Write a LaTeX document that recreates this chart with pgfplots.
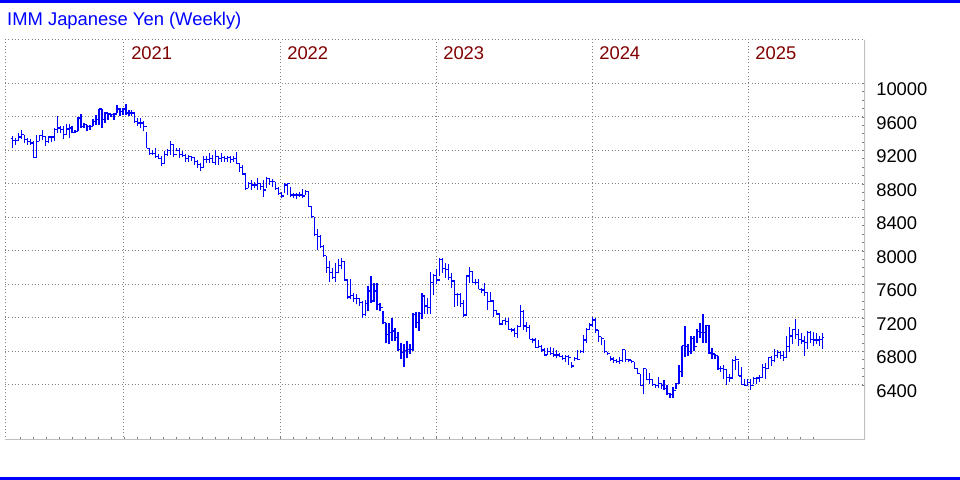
\documentclass[border=0pt]{standalone}
\usepackage{fontspec}
\setmainfont{Liberation Sans}
\usepackage{pgfplots}
\usepackage{pgfplotstable}
\pgfplotsset{compat=1.18}
\definecolor{yrred}{HTML}{800000}
\definecolor{gridgray}{HTML}{808080}
\definecolor{axgray}{HTML}{C0C0C0}
\definecolor{barblue}{HTML}{0000FF}
\pgfdeclareplotmark{ctick}{\pgfpathmoveto{\pgfqpoint{0pt}{0pt}}\pgfpathlineto{\pgfqpoint{1.3bp}{0pt}}\pgfusepathqstroke}
\pgfdeclareplotmark{otick}{\pgfpathmoveto{\pgfqpoint{-1.3bp}{0pt}}\pgfpathlineto{\pgfqpoint{0pt}{0pt}}\pgfusepathqstroke}

\pgfplotstableread{
i o h l c
0 9340 9376 9228 9316
1 9316 9348 9264 9316
2 9316 9408 9308 9360
3 9360 9448 9336 9388
4 9388 9388 9288 9328
5 9328 9348 9268 9308
6 9308 9336 9268 9288
7 9288 9308 9108 9120
8 9120 9388 9116 9308
9 9308 9388 9308 9376
10 9376 9448 9328 9368
11 9368 9368 9256 9308
12 9308 9376 9288 9360
13 9360 9376 9296 9360
14 9360 9468 9308 9448
15 9448 9616 9408 9468
16 9468 9488 9408 9448
17 9448 9488 9336 9388
18 9388 9516 9388 9456
19 9456 9516 9348 9468
20 9468 9488 9408 9416
21 9416 9448 9408 9428
22 9428 9600 9428 9588
23 9588 9636 9468 9488
24 9488 9528 9468 9508
25 9508 9508 9428 9488
26 9488 9508 9448 9488
27 9488 9576 9488 9548
28 9548 9628 9508 9568
29 9568 9696 9508 9696
30 9696 9696 9468 9568
31 9568 9660 9528 9648
32 9648 9648 9568 9636
33 9636 9640 9600 9628
34 9628 9648 9568 9636
35 9636 9748 9648 9696
36 9696 9708 9616 9668
37 9668 9708 9628 9696
38 9696 9760 9628 9648
39 9648 9688 9616 9648
40 9648 9688 9616 9648
41 9648 9648 9528 9548
42 9548 9588 9488 9528
43 9528 9588 9468 9528
44 9528 9548 9428 9488
45 9488 9416 9228 9228
46 9228 9228 9148 9168
47 9168 9208 9148 9160
48 9160 9228 9108 9128
49 9128 9160 9100 9108
50 9108 9128 9016 9048
51 9048 9188 9048 9148
52 9148 9216 9128 9200
53 9200 9308 9148 9268
54 9268 9268 9120 9148
55 9148 9228 9188 9200
56 9200 9228 9108 9148
57 9148 9196 9120 9136
58 9136 9160 9060 9108
59 9108 9148 9068 9128
60 9128 9136 9080 9120
61 9120 9120 9028 9068
62 9068 9088 8988 9028
63 9028 9048 8960 9000
64 9000 9136 9000 9088
65 9088 9136 9048 9088
66 9088 9168 9048 9108
67 9108 9148 9048 9056
68 9056 9200 9028 9128
69 9128 9136 9028 9108
70 9108 9168 9068 9120
71 9120 9136 9068 9108
72 9108 9128 9068 9120
73 9120 9136 9056 9096
74 9096 9128 9068 9108
75 9108 9176 9040 9048
76 9048 9048 8948 9000
77 9000 9028 8908 8920
78 8920 8920 8728 8748
79 8748 8828 8748 8808
80 8808 8848 8728 8788
81 8788 8828 8748 8788
82 8788 8868 8728 8808
83 8808 8808 8728 8768
84 8768 8848 8648 8728
85 8728 8888 8748 8868
86 8868 8868 8788 8828
87 8828 8856 8768 8828
88 8828 8828 8728 8748
89 8748 8768 8668 8688
90 8688 8708 8628 8656
91 8656 8808 8688 8788
92 8788 8816 8668 8808
93 8808 8768 8640 8668
94 8668 8688 8628 8668
95 8668 8688 8616 8668
96 8668 8708 8640 8668
97 8668 8736 8628 8656
98 8656 8728 8668 8708
99 8708 8721 8526 8534
100 8534 8534 8395 8407
101 8407 8407 8177 8197
102 8197 8264 8010 8177
103 8177 8185 8038 8050
104 8050 8077 7931 7946
105 7946 7939 7740 7800
106 7800 7879 7629 7740
107 7740 7800 7661 7680
108 7680 7851 7629 7740
109 7740 7899 7732 7827
110 7827 7919 7780 7879
111 7879 7879 7641 7653
112 7653 7661 7430 7450
113 7450 7661 7422 7470
114 7470 7494 7391 7430
115 7430 7482 7363 7430
116 7430 7442 7343 7383
117 7383 7403 7204 7244
118 7244 7414 7224 7375
119 7375 7581 7283 7522
120 7522 7700 7383 7403
121 7403 7613 7391 7522
122 7522 7621 7295 7363
123 7363 7383 7283 7323
124 7323 7283 7125 7145
125 7145 7145 6898 7006
126 7006 7145 6886 7025
127 7025 7196 6926 7045
128 7045 7085 6926 6966
129 6966 7033 6807 6827
130 6827 6906 6716 6787
131 6787 6886 6620 6807
132 6807 6926 6728 6827
133 6827 6886 6767 6819
134 6819 7256 6807 7244
135 7244 7272 7085 7145
136 7145 7272 7045 7256
137 7256 7502 7184 7462
138 7462 7454 7244 7343
139 7343 7442 7244 7323
140 7323 7752 7244 7621
141 7621 7720 7470 7708
142 7708 7780 7601 7653
143 7653 7919 7700 7899
144 7899 7919 7740 7788
145 7788 7851 7680 7780
146 7780 7839 7653 7680
147 7680 7740 7561 7641
148 7641 7641 7335 7482
149 7482 7502 7343 7482
150 7482 7495 7335 7375
151 7375 7415 7208 7236
152 7236 7713 7236 7701
153 7701 7813 7614 7753
154 7753 7753 7614 7622
155 7622 7662 7594 7622
156 7622 7662 7542 7542
157 7542 7554 7494 7534
158 7534 7622 7463 7503
159 7503 7514 7296 7395
160 7395 7514 7395 7403
161 7403 7403 7216 7288
162 7288 7296 7236 7248
163 7248 7236 7116 7128
164 7128 7176 7116 7168
165 7168 7196 7116 7156
166 7156 7196 7057 7065
167 7065 7077 7037 7057
168 7057 7077 6977 7017
169 7017 7116 6957 7097
170 7097 7355 7097 7276
171 7276 7296 7057 7105
172 7105 7156 7037 7089
173 7089 7116 6945 6945
174 6945 6957 6898 6937
175 6937 6957 6838 6850
176 6850 6937 6838 6858
177 6858 6878 6798 6818
178 6818 6838 6758 6758
179 6758 6838 6758 6798
180 6798 6858 6758 6778
181 6778 6838 6738 6758
182 6758 6818 6718 6758
183 6758 6778 6730 6738
184 6738 6758 6699 6718
185 6718 6758 6679 6738
186 6738 6758 6639 6730
187 6730 6679 6599 6627
188 6627 6738 6690 6718
189 6718 6818 6699 6706
190 6706 6818 6778 6798
191 6798 6997 6778 6937
192 6937 7077 6898 7065
193 7065 7136 7057 7116
194 7116 7216 7097 7176
195 7176 7196 7017 7057
196 7057 7057 6917 6977
197 6977 6977 6878 6957
198 6957 6937 6778 6798
199 6798 6798 6758 6778
200 6778 6749 6690 6710
201 6710 6730 6663 6690
202 6690 6710 6663 6679
203 6679 6730 6651 6690
204 6690 6835 6679 6820
205 6820 6816 6671 6702
206 6702 6710 6671 6698
207 6698 6702 6663 6679
208 6679 6679 6592 6600
209 6600 6600 6534 6534
210 6534 6534 6389 6396
211 6396 6592 6287 6592
212 6592 6592 6455 6467
213 6467 6545 6416 6467
214 6467 6475 6389 6404
215 6404 6416 6365 6389
216 6389 6494 6365 6416
217 6416 6428 6357 6396
218 6396 6455 6338 6357
219 6357 6396 6279 6298
220 6298 6310 6240 6287
221 6287 6377 6240 6330
222 6330 6428 6357 6416
223 6416 6639 6416 6561
224 6561 6867 6494 6867
225 6867 7102 6730 6859
226 6859 6886 6749 6796
227 6796 6984 6769 6953
228 6953 6984 6808 6859
229 6859 7063 6906 7043
230 7043 7141 6965 7031
231 7031 7251 6898 7024
232 7024 7122 6906 7114
233 7114 7122 6769 6781
234 6781 6847 6710 6769
235 6769 6769 6710 6749
236 6749 6749 6573 6592
237 6592 6632 6553 6592
238 6592 6639 6475 6584
239 6584 6592 6396 6494
240 6494 6534 6436 6483
241 6483 6710 6483 6690
242 6690 6749 6573 6702
243 6702 6690 6506 6506
244 6506 6612 6404 6404
245 6404 6475 6389 6396
246 6396 6475 6404 6428
247 6428 6475 6338 6396
248 6396 6494 6416 6475
249 6475 6494 6416 6483
250 6483 6514 6436 6494
251 6494 6651 6483 6612
252 6612 6663 6475 6592
253 6592 6730 6592 6730
254 6730 6749 6624 6690
255 6690 6828 6671 6749
256 6749 6820 6718 6788
257 6788 6808 6710 6749
258 6749 6808 6690 6730
259 6730 6984 6730 6859
260 6859 7094 6788 6984
261 6984 7071 6886 7063
262 7063 7188 6945 7004
263 7004 7063 6867 6945
264 6945 7024 6886 6926
265 6926 6984 6749 6906
266 6906 7043 6828 7031
267 7031 7043 6906 6945
268 6945 7031 6867 6937
269 6937 7024 6886 6937
270 6937 6984 6867 6945
271 6945 7024 6828 6965
}\yen

\begin{document}
\begin{tikzpicture}[font=\fontsize{13.8bp}{16bp}\selectfont]
\useasboundingbox (0,0) rectangle (720bp,360bp);
\fill[barblue] (0,357.8bp) rectangle (720bp,360bp);
\fill[barblue] (0,0) rectangle (720bp,2.2bp);
\node[anchor=base west, text=barblue, inner sep=0pt] at (5.2bp,340.6bp) {IMM Japanese Yen (Weekly)};
\begin{axis}[
  at={(3.75bp,30bp)}, anchor=south west,
  scale only axis, width=645bp, height=300bp,
  xmin=-2.44, xmax=285.2, ymin=5743, ymax=10519,
  scaled y ticks=false, scaled x ticks=false,
  axis line style={draw=none},
  xtick={37.36,89.54,141.72,193.9,246.08},
  xticklabels={2021,2022,2023,2024,2025},
  xtick pos=left, xticklabel pos=right,
  xticklabel style={anchor=north west, inner sep=0pt, xshift=5.25bp, yshift=-4.5bp, text=yrred},
  minor xtick={2.58,6.928,...,268},
  ytick={6400,6800,7200,7600,8000,8400,8800,9200,9600,10000},
  yticklabels={6400,6800,7200,7600,8000,8400,8800,9200,9600,10000},
  ytick pos=right, yticklabel pos=right,
  yticklabel style={anchor=north west, inner sep=0pt, xshift=8.25bp, yshift=0.6bp},
  minor y tick num=3,
  tick align=inside,
  major tick length=2bp, minor tick length=2.2bp,
  tick style={draw=gridgray, line width=0.6bp},
  major x tick style={draw=none},
  grid=major,
  major grid style={draw=gridgray, line width=0.75bp, dash pattern=on 0.75bp off 1.75bp},
]
\draw[gridgray, line width=0.75bp, dash pattern=on 0.75bp off 1.75bp] (rel axis cs:0,0) -- (rel axis cs:0,1) -- (rel axis cs:1,1);
\draw[axgray, line width=0.9bp] (rel axis cs:0,0) -- (rel axis cs:1,0) -- (rel axis cs:1,1);
\addplot[draw=none, mark=none, error bars/.cd, y dir=plus, y explicit, error mark=none,
  error bar style={draw=barblue, solid, line width=0.9bp}]
  table[x=i, y=l, y error expr=\thisrow{h}-\thisrow{l}] {\yen};
\addplot[only marks, mark=ctick, draw=barblue, mark options={draw=barblue, solid, line width=0.9bp}] table[x=i, y=c] {\yen};
\addplot[only marks, mark=otick, draw=barblue, mark options={draw=barblue, solid, line width=0.9bp}] table[x=i, y=o] {\yen};
\end{axis}
\end{tikzpicture}
\end{document}
